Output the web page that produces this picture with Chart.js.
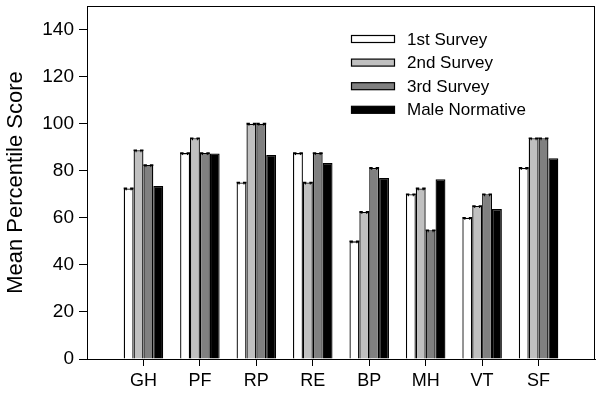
<!DOCTYPE html>
<html>
<head>
<meta charset="utf-8">
<script src="https://cdn.jsdelivr.net/npm/chart.js@4/dist/chart.umd.min.js"></script>
<style>
  html, body { margin: 0; padding: 0; background: #fff; }
  #wrap { width: 600px; height: 402px; }
</style>
</head>
<body>
<div id="wrap"><canvas id="chartSurvey"></canvas></div>
<script>
// data
var categories = ['GH', 'PF', 'RP', 'RE', 'BP', 'MH', 'VT', 'SF'];
var survey1 = [72.5, 87.5, 75, 87.5, 50, 70, 60, 81.2];
var survey2 = [88.7, 93.8, 100, 75, 62.5, 72.5, 65, 93.8];
var survey3 = [82.4, 87.5, 100, 87.5, 81.2, 54.7, 70, 93.8];
var maleNorm = [73.5, 87.3, 86.7, 83.3, 76.9, 76.4, 63.7, 85.3];
var yTicks = [0, 20, 40, 60, 80, 100, 120, 140];

// empty slot on each side so the groups sit one full step from the frame
var labels = [''].concat(categories, ['']);
function pad(arr) { return [null].concat(arr, [null]); }

var fontName = "'Liberation Sans', Arial, sans-serif";

// box round the plot
var frame = {
    id: 'frame',
    afterDraw: function (chart) {
        var a = chart.chartArea, ctx = chart.ctx;
        ctx.save();
        ctx.strokeStyle = '#000';
        ctx.lineWidth = 1;
        ctx.strokeRect(a.left + 0.5, a.top + 0.5, a.right - a.left - 1, a.bottom - a.top);
        ctx.restore();
    }
};

// small error caps on the survey bars
var caps = {
    id: 'caps',
    afterDatasetsDraw: function (chart) {
        var ctx = chart.ctx;
        ctx.save();
        ctx.strokeStyle = '#000';
        for (var d = 0; d < 3; d++) {
            var vals = chart.data.datasets[d].data;
            chart.getDatasetMeta(d).data.forEach(function (bar, i) {
                if (vals[i] == null) return;
                var w = bar.width / 2;
                ctx.lineWidth = 1.6;
                ctx.beginPath();
                ctx.moveTo(bar.x - w, bar.y);
                ctx.lineTo(bar.x - 1.5, bar.y);
                ctx.moveTo(bar.x + 1.5, bar.y);
                ctx.lineTo(bar.x + w, bar.y);
                ctx.stroke();
                ctx.lineWidth = 1;
                ctx.beginPath();
                ctx.moveTo(bar.x - w + 2.5, bar.y);
                ctx.lineTo(bar.x - w + 2.5, bar.y + 2);
                ctx.moveTo(bar.x + w - 2.5, bar.y);
                ctx.lineTo(bar.x + w - 2.5, bar.y + 2);
                ctx.stroke();
            });
        }
        ctx.restore();
    }
};

// legend drawn inside the plot, top right
var boxLegend = {
    id: 'boxLegend',
    afterDraw: function (chart) {
        var ctx = chart.ctx;
        ctx.save();
        ctx.font = '17px ' + fontName;
        ctx.textBaseline = 'middle';
        chart.data.datasets.forEach(function (ds, i) {
            var y = 39 + i * 23.6;
            ctx.fillStyle = ds.backgroundColor;
            ctx.fillRect(351, y - 3.5, 44, 7);
            ctx.strokeStyle = '#000';
            ctx.lineWidth = 1.2;
            ctx.strokeRect(351.5, y - 3.5, 43, 7);
            ctx.fillStyle = '#000';
            ctx.fillText(ds.label, 407, y + 1);
        });
        ctx.restore();
    }
};

var ctx = document.getElementById('chartSurvey').getContext('2d');
var chartS = new Chart(ctx, {
    type: 'bar',
    data: {
        labels: labels,
        datasets: [
            { label: '1st Survey', data: pad(survey1), backgroundColor: '#ffffff', borderColor: '#000', borderWidth: 1.3 },
            { label: '2nd Survey', data: pad(survey2), backgroundColor: '#c0c0c0', borderColor: '#000', borderWidth: 1.3 },
            { label: '3rd Survey', data: pad(survey3), backgroundColor: '#808080', borderColor: '#000', borderWidth: 1.3 },
            { label: 'Male Normative', data: pad(maleNorm), backgroundColor: '#000000', borderColor: '#000', borderWidth: 1.3 }
        ]
    },
    options: {
        responsive: true,
        maintainAspectRatio: false,
        animation: false,
        layout: { padding: { top: 6, right: 5, left: 0, bottom: 0 } },
        plugins: {
            legend: { display: false },
            tooltip: { enabled: false }
        },
        datasets: { bar: { barPercentage: 1, categoryPercentage: 0.7 } },
        scales: {
            x: {
                offset: false,
                grid: {
                    offset: false,
                    drawOnChartArea: false,
                    tickLength: 7,
                    color: function (c) { return labels[c.index] ? '#000' : 'rgba(0,0,0,0)'; }
                },
                border: { color: '#000', width: 1 },
                ticks: {
                    color: '#000',
                    font: { family: fontName, size: 18 },
                    maxRotation: 0,
                    autoSkip: false,
                    padding: 4
                },
                afterFit: function (s) { s.height = 43; s.paddingLeft = 0; s.paddingRight = 0; }
            },
            y: {
                min: 0,
                max: 150,
                afterBuildTicks: function (s) {
                    s.ticks = yTicks.map(function (v) { return { value: v }; });
                },
                grid: { drawOnChartArea: false, tickLength: 8, color: '#000' },
                border: { color: '#000', width: 1 },
                ticks: {
                    color: '#000',
                    font: { family: fontName, size: 19 },
                    padding: 5
                },
                title: {
                    display: true,
                    text: 'Mean Percentile Score',
                    color: '#000',
                    font: { family: fontName, size: 22 },
                    padding: { top: 3, bottom: 0 }
                },
                afterFit: function (s) { s.width = 87; s.paddingTop = 0; s.paddingBottom = 0; }
            }
        }
    },
    plugins: [frame, caps, boxLegend]
});
</script>
</body>
</html>
